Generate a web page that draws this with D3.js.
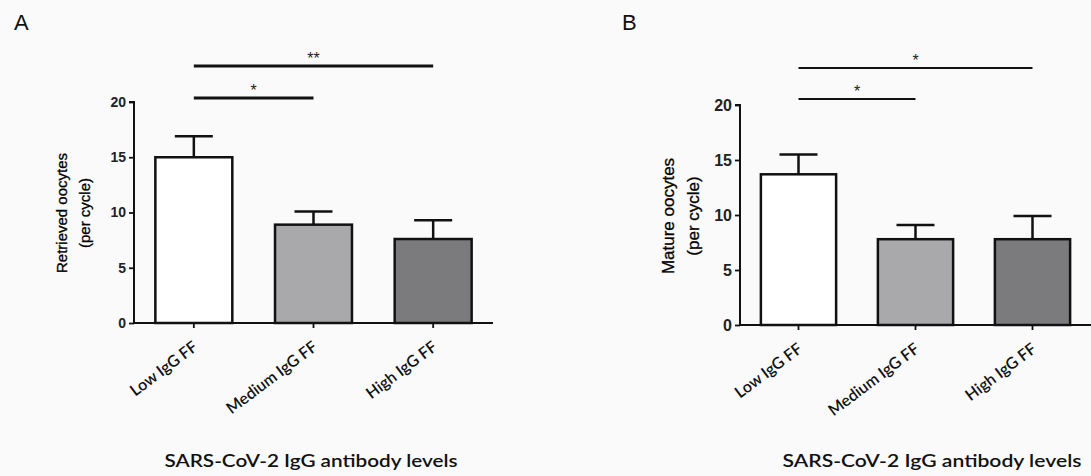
<!DOCTYPE html>
<html>
<head>
<meta charset="utf-8">
<script src="https://cdn.jsdelivr.net/npm/d3@7"></script>
<style>
  html, body { margin: 0; padding: 0; background: #fafafa; }
  svg { display: block; }
</style>
</head>
<body>
<svg id="chart" width="1091" height="476"></svg>
<script>
// ---------- data ----------
const categories = ["Low IgG FF", "Medium IgG FF", "High IgG FF"];
const yTicks = [0, 5, 10, 15, 20];

const retrievedMean = [15.0, 8.9, 7.6];
const retrievedSD   = [1.9, 1.2, 1.7];

const matureMean = [13.7, 7.8, 7.8];
const matureSD   = [1.8, 1.3, 2.1];

// significance comparisons: [fromIndex, toIndex, label]
const sigPairsA = [[0, 1, "*"], [0, 2, "**"]];
const sigPairsB = [[0, 1, "*"], [0, 2, "*"]];

const panelLabels = ["A", "B"];
const yTitlesA = ["Retrieved oocytes", "(per cycle)"];
const yTitlesB = ["Mature oocytes", "(per cycle)"];
const xTitle = "SARS-CoV-2 IgG antibody levels";

const barFills = ["#ffffff", "#a9a9ac", "#7b7b7d"];

// ---------- drawing ----------
const svg = d3.select("#chart");
const ARIAL = "'Liberation Sans', Arial, sans-serif";
const CAL = "Lato, 'Open Sans', sans-serif";

function drawPanel(cfg) {
  const g = svg.append("g");
  const x = d3.scaleBand().domain(categories)
    .range([cfg.x0, cfg.x1]).paddingInner(0.357).paddingOuter(0.1785);
  const y = d3.scaleLinear().domain([0, 20]).range([cfg.yBottom, cfg.yTop]);

  // panel letter
  g.append("text").attr("x", cfg.letterX).attr("y", 30)
    .attr("font-family", ARIAL).attr("font-size", 22).attr("fill", "#111")
    .text(cfg.letter);

  const data = categories.map((c, i) => ({c, m: cfg.mean[i], sd: cfg.sd[i], fill: barFills[i]}));
  // error bars
  g.selectAll(".err").data(data).enter().append("line")
    .attr("x1", d => x(d.c) + x.bandwidth() / 2).attr("x2", d => x(d.c) + x.bandwidth() / 2)
    .attr("y1", d => y(d.m)).attr("y2", d => y(d.m + d.sd))
    .attr("stroke", "#111").attr("stroke-width", cfg.sw);
  g.selectAll(".cap").data(data).enter().append("line")
    .attr("x1", d => x(d.c) + x.bandwidth() / 2 - 19).attr("x2", d => x(d.c) + x.bandwidth() / 2 + 19)
    .attr("y1", d => y(d.m + d.sd)).attr("y2", d => y(d.m + d.sd))
    .attr("stroke", "#111").attr("stroke-width", cfg.sw);
  // bars
  g.selectAll(".bar").data(data).enter().append("rect")
    .attr("x", d => x(d.c)).attr("width", x.bandwidth())
    .attr("y", d => y(d.m)).attr("height", d => y(0) - y(d.m))
    .attr("fill", d => d.fill).attr("stroke", "#111").attr("stroke-width", cfg.sw);

  // y axis
  const yAxis = d3.axisLeft(y).tickValues(yTicks).tickSize(5).tickPadding(3);
  const ya = g.append("g").attr("transform", `translate(${cfg.x0},0)`).call(yAxis);
  ya.select(".domain").attr("stroke", "#111").attr("stroke-width", 2).attr("d", `M-5,${cfg.yTop}H0V${cfg.yBottom}`);
  ya.selectAll(".tick line").attr("stroke", "#111").attr("stroke-width", 1.8);
  ya.selectAll(".tick text").attr("font-family", ARIAL).attr("font-size", cfg.tickFont)
    .attr("font-weight", "bold").attr("fill", "#222");

  // x axis
  const xAxis = d3.axisBottom(x).tickSize(5).tickFormat("");
  const xa = g.append("g").attr("transform", `translate(0,${cfg.yBottom})`).call(xAxis);
  xa.select(".domain").attr("stroke", "#111").attr("stroke-width", 2).attr("d", `M${cfg.x0},0H${cfg.x1}`);
  xa.selectAll(".tick line").attr("stroke", "#111").attr("stroke-width", 1.8);

  // x tick labels rotated
  g.selectAll(".xl").data(categories).enter().append("text")
    .attr("transform", d => `translate(${x(d) + x.bandwidth() / 2 + 5},${cfg.yBottom + 26}) rotate(-37)`)
    .attr("text-anchor", "end")
    .attr("font-family", CAL).attr("font-size", 16).attr("font-weight", 600).attr("fill", "#111")
    .text(d => d);

  // y titles
  cfg.yTitles.forEach((t, i) => {
    g.append("text")
      .attr("transform", `translate(${cfg.yTitleX[i]},${cfg.yTitleY}) rotate(-90)`)
      .attr("text-anchor", "middle").attr("dy", "0.35em")
      .attr("font-family", ARIAL).attr("font-size", cfg.yTitleFont).attr("fill", "#000")
      .attr("stroke", "#000").attr("stroke-width", 0.3)
      .text(t);
  });

  // x title
  g.append("text").attr("x", cfg.xTitleX).attr("y", 467)
    .attr("text-anchor", "middle")
    .attr("font-family", CAL).attr("font-size", 17).attr("font-weight", 600).attr("fill", "#111")
    .attr("textLength", cfg.xTitleLen).attr("lengthAdjust", "spacingAndGlyphs")
    .text(xTitle);

  // significance brackets
  cfg.sig.forEach((p, i) => {
    const xa1 = x(categories[p[0]]) + x.bandwidth() / 2;
    const xa2 = x(categories[p[1]]) + x.bandwidth() / 2;
    const ly = cfg.sigY[i];
    g.append("line").attr("x1", xa1).attr("x2", xa2).attr("y1", ly).attr("y2", ly)
      .attr("stroke", "#111").attr("stroke-width", cfg.sigSW);
    g.append("text").attr("x", (xa1 + xa2) / 2).attr("y", ly - 2)
      .attr("text-anchor", "middle").attr("font-family", ARIAL).attr("font-size", 16).attr("fill", "#222")
      .text(p[2]);
  });
}

drawPanel({
  letter: panelLabels[0], letterX: 14,
  x0: 134, x1: 493, yTop: 102, yBottom: 323,
  mean: retrievedMean, sd: retrievedSD, sw: 2.5,
  tickFont: 14, yTitles: yTitlesA, yTitleX: [62, 85], yTitleY: 213, yTitleFont: 15,
  xTitleX: 311, xTitleLen: 293,
  sig: sigPairsA, sigY: [98, 66], sigSW: 3
});

drawPanel({
  letter: panelLabels[1], letterX: 622,
  x0: 740, x1: 1091, yTop: 105, yBottom: 325,
  mean: matureMean, sd: matureSD, sw: 2.5,
  tickFont: 16, yTitles: yTitlesB, yTitleX: [668, 693], yTitleY: 216, yTitleFont: 17,
  xTitleX: 932, xTitleLen: 299,
  sig: sigPairsB, sigY: [99, 68], sigSW: 2.2
});
</script>
</body>
</html>
